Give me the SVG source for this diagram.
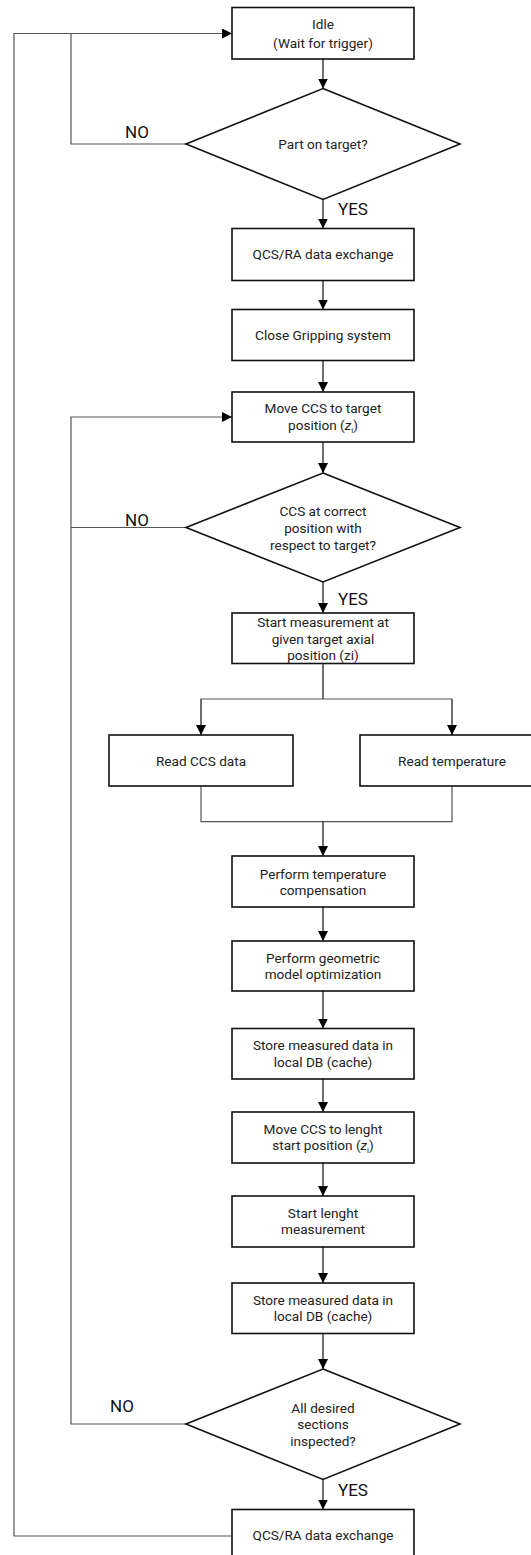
<svg xmlns="http://www.w3.org/2000/svg" width="531" height="1555" viewBox="0 0 531 1555">
<style>
.box{fill:#fff;stroke:#111;stroke-width:1.6}
.t{font-family:Roboto,"Liberation Sans",sans-serif;font-size:13.6px;fill:#222;text-anchor:middle}
.lbl{font-family:Roboto,"Liberation Sans",sans-serif;font-size:17px;fill:#111}
.c{fill:none;stroke:#111;stroke-width:1.2}
.g{fill:none;stroke:#555;stroke-width:1.2}
</style>
<defs>
<marker id="ah" viewBox="0 0 10 10" refX="10" refY="5" markerWidth="10" markerHeight="10" markerUnits="userSpaceOnUse" orient="auto">
<path d="M0,0 L10,5 L0,10 z" fill="#000"/>
</marker>
</defs>
<rect width="531" height="1555" fill="#fff"/>
<g id="connectors">
<path class="c" d="M323,59 V88.5" marker-end="url(#ah)"/>
<path class="c" d="M323,199.5 V228.5" marker-end="url(#ah)"/>
<path class="c" d="M323,280.5 V309.5" marker-end="url(#ah)"/>
<path class="c" d="M323,360.5 V392" marker-end="url(#ah)"/>
<path class="c" d="M323,442 V473" marker-end="url(#ah)"/>
<path class="c" d="M323,582 V613" marker-end="url(#ah)"/>
<path class="c" d="M323,663.5 V699"/>
<path class="g" d="M201,735 V699 H452 V735"/>
<path class="g" d="M201,699 V735" marker-end="url(#ah)"/>
<path class="g" d="M452,699 V735" marker-end="url(#ah)"/>
<path class="g" d="M201,786 V821.7 H452 V786"/>
<path class="c" d="M323,821.7 V856" marker-end="url(#ah)"/>
<path class="c" d="M323,907 V941" marker-end="url(#ah)"/>
<path class="c" d="M323,991 V1028.5" marker-end="url(#ah)"/>
<path class="c" d="M323,1079 V1112" marker-end="url(#ah)"/>
<path class="c" d="M323,1163 V1196" marker-end="url(#ah)"/>
<path class="c" d="M323,1247 V1283" marker-end="url(#ah)"/>
<path class="c" d="M323,1333.5 V1369" marker-end="url(#ah)"/>
<path class="c" d="M323,1479.5 V1509.5" marker-end="url(#ah)"/>
<path class="g" d="M186,144 H71 V33.5"/>
<path class="g" d="M232,1536 H14 V33.5 H232" marker-end="url(#ah)"/>
<path class="g" d="M186,527.5 H71"/>
<path class="g" d="M186,1424 H71 V417 H232" marker-end="url(#ah)"/>
<text class="lbl" x="125" y="138">NO</text>
<text class="lbl" x="338" y="215">YES</text>
<text class="lbl" x="125" y="526">NO</text>
<text class="lbl" x="338" y="605">YES</text>
<text class="lbl" x="110" y="1412">NO</text>
<text class="lbl" x="338" y="1496">YES</text>
</g>
<g id="idle">
<rect class="box" x="232" y="7.5" width="182" height="51.5"/>
<text class="t" x="323" y="29">Idle</text>
<text class="t" x="323" y="48">(Wait for trigger)</text>
</g>
<g id="d-part">
<polygon class="box" points="323,88.5 460,144 323,199.5 186,144"/>
<text class="t" x="323" y="148.5">Part on target?</text>
</g>
<g id="qcs1">
<rect class="box" x="232" y="228.5" width="182" height="52"/>
<text class="t" x="323" y="259">QCS/RA data exchange</text>
</g>
<g id="close">
<rect class="box" x="232" y="309.5" width="182" height="51"/>
<text class="t" x="323" y="340">Close Gripping system</text>
</g>
<g id="move-target">
<rect class="box" x="232" y="392" width="182" height="50"/>
<text class="t" x="323" y="413">Move CCS to target</text>
<text class="t" x="323" y="430">position (<tspan font-style="italic">z</tspan><tspan font-size="8" dy="3">i</tspan><tspan dy="-3">)</tspan></text>
</g>
<g id="d-ccs">
<polygon class="box" points="323,473 460,527.5 323,582 186,527.5"/>
<text class="t" x="323" y="516">CCS at correct</text>
<text class="t" x="323" y="532.5">position with</text>
<text class="t" x="323" y="550">respect to target?</text>
</g>
<g id="start-meas">
<rect class="box" x="232" y="613" width="182" height="50.5"/>
<text class="t" x="323" y="627">Start measurement at</text>
<text class="t" x="323" y="643.5">given target axial</text>
<text class="t" x="323" y="660">position (zi)</text>
</g>
<g id="read-ccs">
<rect class="box" x="109" y="735" width="184" height="51"/>
<text class="t" x="201" y="766">Read CCS data</text>
</g>
<g id="read-temp">
<rect class="box" x="360" y="735" width="184" height="51"/>
<text class="t" x="452" y="766">Read temperature</text>
</g>
<g id="temp-comp">
<rect class="box" x="232" y="856" width="182" height="51"/>
<text class="t" x="323" y="878.5">Perform temperature</text>
<text class="t" x="323" y="894.5">compensation</text>
</g>
<g id="geo-opt">
<rect class="box" x="232" y="941" width="182" height="50"/>
<text class="t" x="323" y="963">Perform geometric</text>
<text class="t" x="323" y="979">model optimization</text>
</g>
<g id="store1">
<rect class="box" x="232" y="1028.5" width="182" height="50.5"/>
<text class="t" x="323" y="1050">Store measured data in</text>
<text class="t" x="323" y="1067">local DB (cache)</text>
</g>
<g id="move-length">
<rect class="box" x="232" y="1112" width="182" height="51"/>
<text class="t" x="323" y="1133.5">Move CCS to lenght</text>
<text class="t" x="323" y="1150">start position (<tspan font-style="italic">z</tspan><tspan font-size="8" dy="3">i</tspan><tspan dy="-3">)</tspan></text>
</g>
<g id="start-length">
<rect class="box" x="232" y="1196" width="182" height="51"/>
<text class="t" x="323" y="1218">Start lenght</text>
<text class="t" x="323" y="1234">measurement</text>
</g>
<g id="store2">
<rect class="box" x="232" y="1283" width="182" height="50.5"/>
<text class="t" x="323" y="1304.5">Store measured data in</text>
<text class="t" x="323" y="1321">local DB (cache)</text>
</g>
<g id="d-all">
<polygon class="box" points="323,1369 460,1424 323,1479.5 186,1424"/>
<text class="t" x="323" y="1412.5">All desired</text>
<text class="t" x="323" y="1429">sections</text>
<text class="t" x="323" y="1446">inspected?</text>
</g>
<g id="qcs2">
<rect class="box" x="232" y="1509.5" width="182" height="52"/>
<text class="t" x="323" y="1540">QCS/RA data exchange</text>
</g>
</svg>
